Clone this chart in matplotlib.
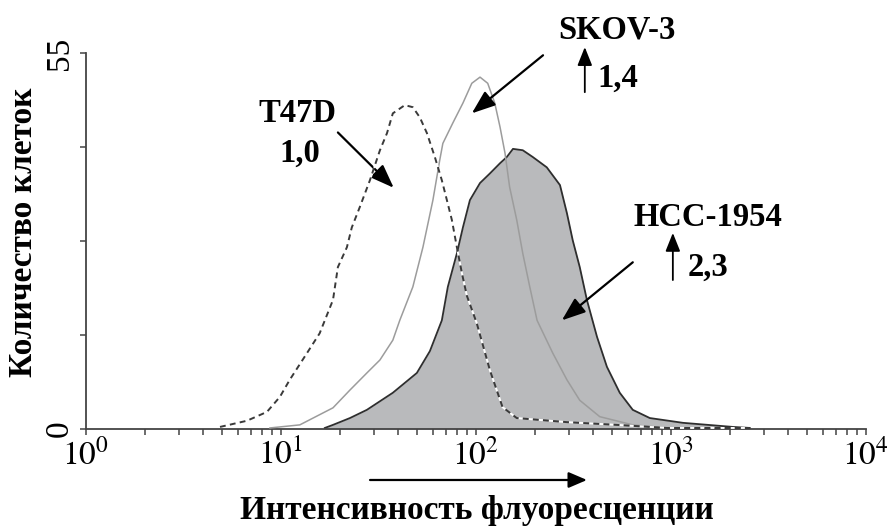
import numpy as np
import matplotlib
matplotlib.use("Agg")
import matplotlib.pyplot as plt
from matplotlib.ticker import LogLocator, NullFormatter, FixedLocator

# ---- data (fluorescence intensity vs cell count) ----
t47d_x = [4.87, 6.69, 8.48, 9.88, 11.1, 13.6, 15.8, 18.5, 19.6, 21.8, 23.1, 25.4, 28.6, 32.2,
          35.0, 37.5, 43.2, 47.5, 51.6, 56.1, 61.6, 66.9, 71.0, 75.3, 79.9, 84.8, 89.9, 101,
          118, 137, 162, 293, 528, 953, 2540]
t47d_y = [0.3, 1.2, 2.5, 4.7, 7.2, 11.1, 14.0, 18.9, 23.7, 26.6, 29.5, 32.5, 36.4, 40.8,
          43.3, 46.2, 47.4, 47.1, 45.6, 43.3, 39.8, 36.4, 33.5, 30.6, 26.6, 22.8, 19.5, 15.5,
          8.6, 3.2, 1.6, 1.0, 0.6, 0.15, 0.15]

skov_x = [8.78, 12.5, 18.5, 22.6, 27.6, 32.2, 37.5, 40.7, 47.5, 53.5, 60.2, 65.3, 67.7, 76.2,
          85.8, 95.3, 105, 115, 125, 133, 141, 149, 162, 174, 189, 206, 248, 293, 341, 432,
          638, 953]
skov_y = [0.15, 0.6, 3.1, 5.7, 8.2, 10.1, 13.0, 15.9, 20.8, 26.6, 33.5, 39.4, 41.8, 44.8,
          47.7, 50.6, 51.5, 50.6, 47.7, 44.2, 40.4, 35.4, 30.6, 25.7, 20.8, 15.9, 11.1, 7.2,
          4.2, 1.8, 0.6, 0.15]

hcc_x = [16.8, 18.5, 22.6, 27.6, 37.5, 49.8, 58.1, 66.9, 71.8, 79.9, 85.8, 93.2, 105, 118,
         133, 144, 155, 174, 196, 231, 270, 293, 314, 341, 371, 418, 470, 547, 638, 780,
         1153, 2080, 2540]
hcc_y = [0.15, 0.6, 1.6, 2.8, 5.3, 8.2, 11.4, 15.9, 20.8, 25.7, 29.5, 33.5, 36.0, 37.4,
         38.9, 39.8, 41.0, 40.8, 39.8, 38.3, 35.7, 31.6, 27.6, 23.7, 18.9, 13.5, 9.1, 5.3,
         2.8, 1.6, 0.9, 0.3, 0.15]

y_max = 55
xtick_vals = [1, 10, 100, 1000, 10000]
xtick_labels = [r"$10^{0}$", r"$10^{1}$", r"$10^{2}$", r"$10^{3}$", r"$10^{4}$"]

plt.rcParams['font.family'] = ['Liberation Serif', 'DejaVu Serif']
plt.rcParams['mathtext.fontset'] = 'stix'

fig = plt.figure(figsize=(8.88, 5.27), dpi=100)
ax = fig.add_axes([0.0968, 0.186, 0.8782, 0.713])

ax.fill_between(hcc_x, hcc_y, 0, color='#b9babc', lw=0, zorder=1)
ax.plot(hcc_x, hcc_y, color='#2e2e2e', lw=1.3, zorder=2)
ax.plot(skov_x, skov_y, color='#9c9c9c', lw=1.1, zorder=3)
ax.plot(t47d_x, t47d_y, color='#3a3a3a', lw=1.4, linestyle=(0, (3, 2.2)),
        gapcolor='white', zorder=4)

ax.set_xscale('log')
ax.set_xlim(1, 1e4)
ax.set_ylim(0, y_max)

for s in ['top', 'right']:
    ax.spines[s].set_visible(False)
for s in ['left', 'bottom']:
    ax.spines[s].set_color('#444444')
    ax.spines[s].set_linewidth(1.3)

ax.set_xticks(xtick_vals)
ax.set_xticklabels(xtick_labels)
ax.xaxis.set_minor_locator(LogLocator(base=10, subs=np.arange(2, 10)))
ax.xaxis.set_minor_formatter(NullFormatter())
ax.tick_params(axis='x', which='both', direction='out', length=4, width=1.1,
               color='#444444', labelsize=24, pad=3)

ax.yaxis.set_major_locator(FixedLocator([0, y_max / 4, y_max / 2, 3 * y_max / 4, y_max]))
ax.set_yticklabels(['0', '', '', '', '55'])
ax.tick_params(axis='y', direction='out', length=4, width=1.1, color='#444444',
               labelsize=24, pad=4)
for lab in ax.get_yticklabels():
    lab.set_rotation(90)
    lab.set_va('center')

# labels
fig.text(0.026, 0.56, 'Количество клеток', rotation=90, ha='center', va='center',
         fontsize=24, fontweight='bold')
fig.text(0.537, 0.032, 'Интенсивность флуоресценции', ha='center', va='center',
         fontsize=24, fontweight='bold')
fig.add_artist(matplotlib.patches.FancyArrowPatch(
    (0.4167, 0.0892), (0.661, 0.0892), transform=fig.transFigure,
    arrowstyle='-|>,head_length=0.7,head_width=0.3', color='black', lw=1.6,
    mutation_scale=16, shrinkA=0, shrinkB=0))

# annotations
arrow_kw = dict(arrowstyle='-|>,head_length=0.8,head_width=0.3', color='black', lw=1.6,
                mutation_scale=18, shrinkA=0, shrinkB=0)
up_kw = dict(arrowstyle='-|>,head_length=0.7,head_width=0.28', color='black', lw=1.3,
             mutation_scale=16, shrinkA=0, shrinkB=0)
txt_kw = dict(fontsize=23.5, fontweight='bold', clip_on=False)

ax.text(12.2, 46.2, 'T47D', ha='center', va='center', **txt_kw)
ax.text(12.5, 40.4, '1,0', ha='center', va='center', **txt_kw)
ax.annotate('', xy=(37.9, 35.3), xytext=(19.6, 43.4), arrowprops=arrow_kw,
            annotation_clip=False)

ax.text(528, 58.4, 'SKOV-3', ha='center', va='center', **txt_kw)
ax.annotate('', xy=(362, 55.9), xytext=(362, 49.3), arrowprops=up_kw,
            annotation_clip=False)
ax.text(422, 51.3, '1,4', ha='left', va='center', **txt_kw)
ax.annotate('', xy=(95.3, 46.2), xytext=(221, 54.7), arrowprops=arrow_kw,
            annotation_clip=False)

ax.text(1549, 30.9, 'HCC-1954', ha='center', va='center', **txt_kw)
ax.annotate('', xy=(1024, 28.7), xytext=(1024, 21.8), arrowprops=up_kw,
            annotation_clip=False)
ax.text(1222, 23.7, '2,3', ha='left', va='center', **txt_kw)
ax.annotate('', xy=(276, 15.9), xytext=(638, 24.4), arrowprops=arrow_kw,
            annotation_clip=False)

fig.savefig('out.png', dpi=100)
